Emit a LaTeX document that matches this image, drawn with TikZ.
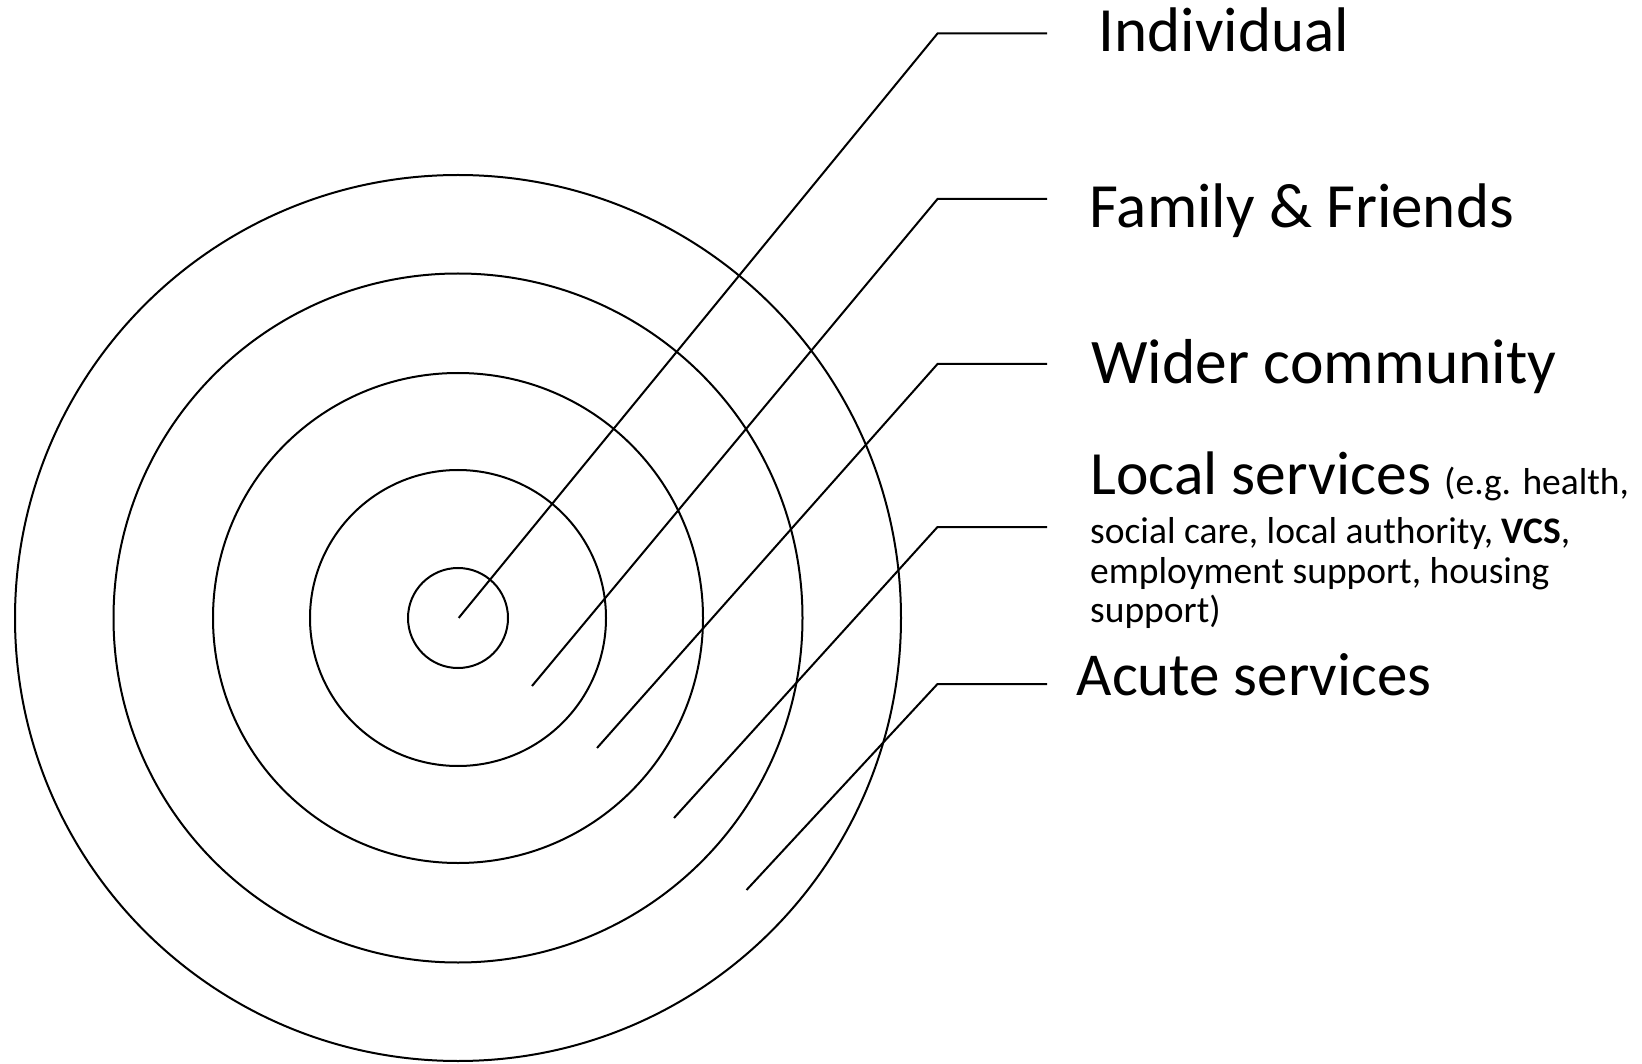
\documentclass[tikz,border=0pt]{standalone}
\usepackage{fontspec}
\setmainfont{Carlito}
\begin{document}
\begin{tikzpicture}[x=1pt,y=-1pt,
  ring/.style={draw=black,line width=2pt},
  lead/.style={draw=black,line width=2pt},
  lbl/.style={anchor=base west,inner sep=0pt},
  small/.style={lbl,font=\fontsize{37.5}{40}\selectfont}]
\useasboundingbox (0,0) rectangle (1642,1064);
\coordinate (c) at (458,618);
\foreach \r in {50,148,245,344.5,443}{
  \draw[ring] (c) circle [radius=\r pt];
}
% leader coordinates
\coordinate (s1) at (458.7,617.9); \coordinate (k1) at (937.5,33.5);  \coordinate (e1) at (1047,33.5);
\coordinate (s2) at (532,686);     \coordinate (k2) at (937.5,199);   \coordinate (e2) at (1047,199);
\coordinate (s3) at (597,748);     \coordinate (k3) at (937.5,364);   \coordinate (e3) at (1047,364);
\coordinate (s4) at (674,818);     \coordinate (k4) at (937.5,527);   \coordinate (e4) at (1047,527);
\coordinate (s5) at (746.5,890);   \coordinate (k5) at (937.5,684);   \coordinate (e5) at (1047,684);
\foreach \i in {1,...,5}{
  \draw[lead] (s\i) -- (k\i) -- (e\i);
}
% labels
\node[lbl,font=\fontsize{63}{74}\selectfont] (t1) at (1098.5,51.7) {Individual};
\node[lbl,font=\fontsize{63}{74}\selectfont] (t2) at (1089.5,227.7) {Family \& Friends};
\node[lbl,font=\fontsize{63.5}{74}\selectfont] (t3) at (1091,383.3) {Wider community};
\node[lbl,font=\fontsize{61.5}{74}\selectfont] (t4) at (1090.5,495) {Local services};
\node[small] (t4a) at (1444,495) {(e.g. health,};
\node[small] (t4b) at (1090,543) {social care, local authority, \textbf{VCS},};
\node[small] (t4c) at (1090,583) {employment support, housing};
\node[small] (t4d) at (1090,622) {support)};
\node[lbl,font=\fontsize{61}{74}\selectfont] (t5) at (1076.5,695) {Acute services};
\end{tikzpicture}
\end{document}
